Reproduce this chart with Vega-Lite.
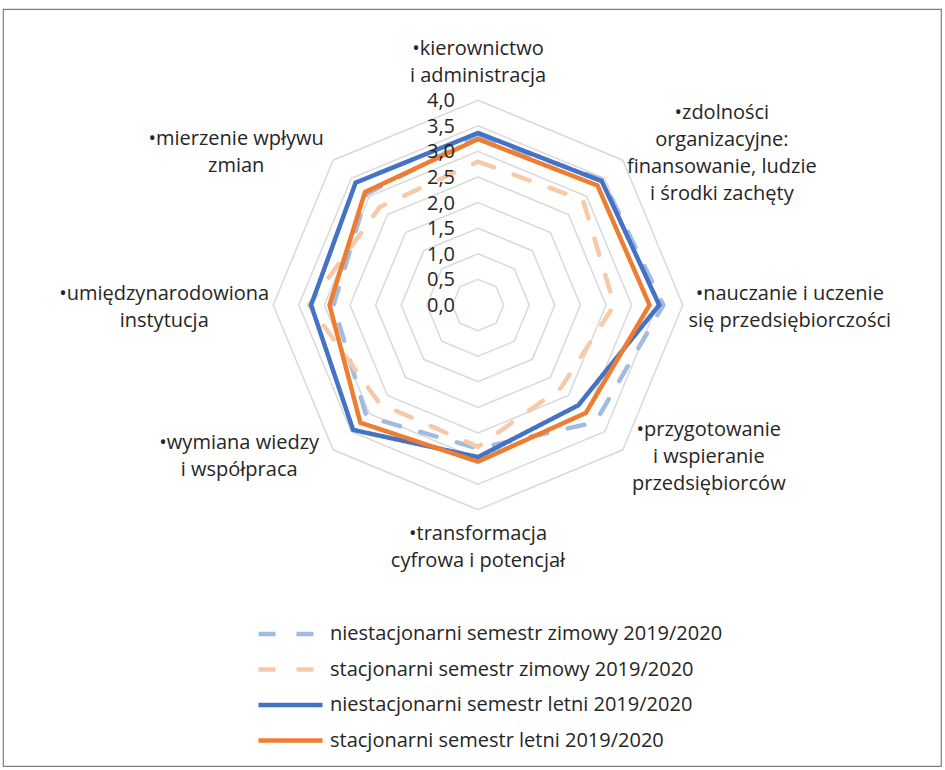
{
  "$schema": "https://vega.github.io/schema/vega-lite/v6.json",
  "width": 938,
  "height": 757,
  "autosize": {"type": "none"},
  "padding": {"left": 3, "top": 9, "right": 4, "bottom": 4},
  "background": "white",
  "config": {
    "view": {"stroke": "#7f7f7f", "strokeWidth": 1.2},
    "font": "Open Sans",
    "locale": {"number": {"decimal": ",", "thousands": " ", "grouping": [3], "currency": ["", " zł"]}}
  },
  "datasets": {
    "categories": [
      {"category": "kierownictwo i administracja", "label": "•kierownictwo\ni administracja"},
      {"category": "zdolności organizacyjne", "label": "•zdolności\norganizacyjne:\nfinansowanie, ludzie\ni środki zachęty"},
      {"category": "nauczanie i uczenie się przedsiębiorczości", "label": "•nauczanie i uczenie\nsię przedsiębiorczości"},
      {"category": "przygotowanie i wspieranie przedsiębiorców", "label": "•przygotowanie\ni wspieranie\nprzedsiębiorców"},
      {"category": "transformacja cyfrowa i potencjał", "label": "•transformacja\ncyfrowa i potencjał"},
      {"category": "wymiana wiedzy i współpraca", "label": "•wymiana wiedzy\ni współpraca"},
      {"category": "umiędzynarodowiona instytucja", "label": "•umiędzynarodowiona\ninstytucja"},
      {"category": "mierzenie wpływu zmian", "label": "•mierzenie wpływu\nzmian"}
    ],
    "scores": [
      {"series": "niestacjonarni semestr zimowy 2019/2020", "category": "kierownictwo i administracja", "value": 3.30},
      {"series": "niestacjonarni semestr zimowy 2019/2020", "category": "zdolności organizacyjne", "value": 3.45},
      {"series": "niestacjonarni semestr zimowy 2019/2020", "category": "nauczanie i uczenie się przedsiębiorczości", "value": 3.62},
      {"series": "niestacjonarni semestr zimowy 2019/2020", "category": "przygotowanie i wspieranie przedsiębiorców", "value": 3.24},
      {"series": "niestacjonarni semestr zimowy 2019/2020", "category": "transformacja cyfrowa i potencjał", "value": 2.80},
      {"series": "niestacjonarni semestr zimowy 2019/2020", "category": "wymiana wiedzy i współpraca", "value": 3.08},
      {"series": "niestacjonarni semestr zimowy 2019/2020", "category": "umiędzynarodowiona instytucja", "value": 2.82},
      {"series": "niestacjonarni semestr zimowy 2019/2020", "category": "mierzenie wpływu zmian", "value": 3.07},
      {"series": "stacjonarni semestr zimowy 2019/2020", "category": "kierownictwo i administracja", "value": 2.80},
      {"series": "stacjonarni semestr zimowy 2019/2020", "category": "zdolności organizacyjne", "value": 2.90},
      {"series": "stacjonarni semestr zimowy 2019/2020", "category": "nauczanie i uczenie się przedsiębiorczości", "value": 2.66},
      {"series": "stacjonarni semestr zimowy 2019/2020", "category": "przygotowanie i wspieranie przedsiębiorców", "value": 2.29},
      {"series": "stacjonarni semestr zimowy 2019/2020", "category": "transformacja cyfrowa i potencjał", "value": 2.77},
      {"series": "stacjonarni semestr zimowy 2019/2020", "category": "wymiana wiedzy i współpraca", "value": 2.72},
      {"series": "stacjonarni semestr zimowy 2019/2020", "category": "umiędzynarodowiona instytucja", "value": 3.30},
      {"series": "stacjonarni semestr zimowy 2019/2020", "category": "mierzenie wpływu zmian", "value": 2.71},
      {"series": "niestacjonarni semestr letni 2019/2020", "category": "kierownictwo i administracja", "value": 3.36},
      {"series": "niestacjonarni semestr letni 2019/2020", "category": "zdolności organizacyjne", "value": 3.42},
      {"series": "niestacjonarni semestr letni 2019/2020", "category": "nauczanie i uczenie się przedsiębiorczości", "value": 3.54},
      {"series": "niestacjonarni semestr letni 2019/2020", "category": "przygotowanie i wspieranie przedsiębiorców", "value": 2.77},
      {"series": "niestacjonarni semestr letni 2019/2020", "category": "transformacja cyfrowa i potencjał", "value": 2.97},
      {"series": "niestacjonarni semestr letni 2019/2020", "category": "wymiana wiedzy i współpraca", "value": 3.45},
      {"series": "niestacjonarni semestr letni 2019/2020", "category": "umiędzynarodowiona instytucja", "value": 3.26},
      {"series": "niestacjonarni semestr letni 2019/2020", "category": "mierzenie wpływu zmian", "value": 3.38},
      {"series": "stacjonarni semestr letni 2019/2020", "category": "kierownictwo i administracja", "value": 3.24},
      {"series": "stacjonarni semestr letni 2019/2020", "category": "zdolności organizacyjne", "value": 3.30},
      {"series": "stacjonarni semestr letni 2019/2020", "category": "nauczanie i uczenie się przedsiębiorczości", "value": 3.35},
      {"series": "stacjonarni semestr letni 2019/2020", "category": "przygotowanie i wspieranie przedsiębiorców", "value": 2.98},
      {"series": "stacjonarni semestr letni 2019/2020", "category": "transformacja cyfrowa i potencjał", "value": 3.06},
      {"series": "stacjonarni semestr letni 2019/2020", "category": "wymiana wiedzy i współpraca", "value": 3.25},
      {"series": "stacjonarni semestr letni 2019/2020", "category": "umiędzynarodowiona instytucja", "value": 2.90},
      {"series": "stacjonarni semestr letni 2019/2020", "category": "mierzenie wpływu zmian", "value": 3.12}
    ]
  },
  "layer": [
    {
      "data": {"name": "categories"},
      "transform": [
        {"calculate": "indexof(['kierownictwo i administracja','zdolności organizacyjne','nauczanie i uczenie się przedsiębiorczości','przygotowanie i wspieranie przedsiębiorców','transformacja cyfrowa i potencjał','wymiana wiedzy i współpraca','umiędzynarodowiona instytucja','mierzenie wpływu zmian'], datum.category)", "as": "idx"},
        {"calculate": "datum.idx * PI / 4", "as": "a"},
        {"calculate": "[0.5, 1, 1.5, 2, 2.5, 3, 3.5, 4]", "as": "ring"},
        {"flatten": ["ring"]},
        {"calculate": "datum.ring * sin(datum.a)", "as": "gx"},
        {"calculate": "datum.ring * cos(datum.a)", "as": "gy"}
      ],
      "mark": {"type": "line", "interpolate": "linear-closed", "color": "#d9d9d9", "strokeWidth": 1.5},
      "encoding": {
        "x": {"field": "gx", "type": "quantitative", "scale": {"domain": [-9.2773, 9.043], "nice": false, "zero": false}, "axis": null},
        "y": {"field": "gy", "type": "quantitative", "scale": {"domain": [-9.0039, 5.78125], "nice": false, "zero": false}, "axis": null},
        "detail": {"field": "ring"},
        "order": {"field": "idx"}
      }
    },
    {
      "data": {"name": "scores"},
      "transform": [
        {"calculate": "indexof(['kierownictwo i administracja','zdolności organizacyjne','nauczanie i uczenie się przedsiębiorczości','przygotowanie i wspieranie przedsiębiorców','transformacja cyfrowa i potencjał','wymiana wiedzy i współpraca','umiędzynarodowiona instytucja','mierzenie wpływu zmian'], datum.category)", "as": "idx"},
        {"calculate": "datum.idx * PI / 4", "as": "a"},
        {"calculate": "datum.value * sin(datum.a)", "as": "px"},
        {"calculate": "datum.value * cos(datum.a)", "as": "py"}
      ],
      "encoding": {
        "x": {"field": "px", "type": "quantitative", "scale": {"domain": [-9.2773, 9.043], "nice": false, "zero": false}, "axis": null},
        "y": {"field": "py", "type": "quantitative", "scale": {"domain": [-9.0039, 5.78125], "nice": false, "zero": false}, "axis": null},
        "order": {"field": "idx"},
        "color": {
          "field": "series", "type": "nominal",
          "scale": {
            "domain": ["niestacjonarni semestr zimowy 2019/2020", "stacjonarni semestr zimowy 2019/2020", "niestacjonarni semestr letni 2019/2020", "stacjonarni semestr letni 2019/2020"],
            "range": ["#a2bbe1", "#f8c9a9", "#4472c4", "#ed7d31"]
          },
          "legend": {
            "title": null, "orient": "none", "legendX": 253, "legendY": 615,
            "symbolType": "stroke", "symbolSize": 4096, "symbolStrokeWidth": 4.5,
            "clipHeight": 20, "rowPadding": 15.5, "labelFontSize": 20, "labelFont": "Open Sans",
            "labelColor": "#262626", "labelOffset": 5, "labelLimit": 600
          }
        },
        "strokeDash": {
          "field": "series", "type": "nominal",
          "scale": {
            "domain": ["niestacjonarni semestr zimowy 2019/2020", "stacjonarni semestr zimowy 2019/2020", "niestacjonarni semestr letni 2019/2020", "stacjonarni semestr letni 2019/2020"],
            "range": [[17, 21], [17, 21], [1, 0], [1, 0]]
          },
          "legend": {
            "title": null, "orient": "none", "legendX": 253, "legendY": 615,
            "symbolType": "stroke", "symbolSize": 4096, "symbolStrokeWidth": 4.5,
            "clipHeight": 20, "rowPadding": 15.5, "labelFontSize": 20, "labelFont": "Open Sans",
            "labelColor": "#262626", "labelOffset": 5, "labelLimit": 600
          }
        }
      },
      "layer": [
        {"transform": [{"filter": "datum.series == 'niestacjonarni semestr zimowy 2019/2020'"}], "mark": {"type": "line", "interpolate": "linear-closed", "strokeWidth": 4.5, "strokeCap": "round", "strokeJoin": "round"}},
        {"transform": [{"filter": "datum.series == 'stacjonarni semestr zimowy 2019/2020'"}], "mark": {"type": "line", "interpolate": "linear-closed", "strokeWidth": 4.5, "strokeCap": "round", "strokeJoin": "round"}},
        {"transform": [{"filter": "datum.series == 'niestacjonarni semestr letni 2019/2020'"}], "mark": {"type": "line", "interpolate": "linear-closed", "strokeWidth": 4.5, "strokeJoin": "miter"}},
        {"transform": [{"filter": "datum.series == 'stacjonarni semestr letni 2019/2020'"}], "mark": {"type": "line", "interpolate": "linear-closed", "strokeWidth": 4.5, "strokeJoin": "miter"}}
      ]
    },
    {
      "data": {"name": "categories"},
      "transform": [
        {"calculate": "indexof(['kierownictwo i administracja','zdolności organizacyjne','nauczanie i uczenie się przedsiębiorczości','przygotowanie i wspieranie przedsiębiorców','transformacja cyfrowa i potencjał','wymiana wiedzy i współpraca','umiędzynarodowiona instytucja','mierzenie wpływu zmian'], datum.category)", "as": "idx"},
        {"filter": "datum.idx == 0"},
        {"calculate": "[0, 0.5, 1, 1.5, 2, 2.5, 3, 3.5, 4]", "as": "ring"},
        {"flatten": ["ring"]}
      ],
      "mark": {"type": "text", "align": "right", "baseline": "middle", "dx": -23, "dy": 1, "fontSize": 20, "color": "#262626"},
      "encoding": {
        "x": {"datum": 0, "type": "quantitative", "scale": {"domain": [-9.2773, 9.043], "nice": false, "zero": false}, "axis": null},
        "y": {"field": "ring", "type": "quantitative", "scale": {"domain": [-9.0039, 5.78125], "nice": false, "zero": false}, "axis": null},
        "text": {"field": "ring", "type": "quantitative", "format": ".1f"}
      }
    },
    {
      "data": {"name": "categories"},
      "transform": [
        {"calculate": "indexof(['kierownictwo i administracja','zdolności organizacyjne','nauczanie i uczenie się przedsiębiorczości','przygotowanie i wspieranie przedsiębiorców','transformacja cyfrowa i potencjał','wymiana wiedzy i współpraca','umiędzynarodowiona instytucja','mierzenie wpływu zmian'], datum.category)", "as": "idx"},
        {"calculate": "4 * sin(datum.idx * PI / 4)", "as": "lx"},
        {"calculate": "4 * cos(datum.idx * PI / 4)", "as": "ly"}
      ],
      "encoding": {
        "x": {"field": "lx", "type": "quantitative", "scale": {"domain": [-9.2773, 9.043], "nice": false, "zero": false}, "axis": null},
        "y": {"field": "ly", "type": "quantitative", "scale": {"domain": [-9.0039, 5.78125], "nice": false, "zero": false}, "axis": null},
        "text": {"field": "label", "type": "nominal"}
      },
      "layer": [
        {"transform": [{"filter": "datum.idx == 0"}], "mark": {"type": "text", "align": "center", "baseline": "middle", "lineBreak": "\n", "lineHeight": 27, "fontSize": 20, "color": "#262626", "dx": 0, "dy": -51}},
        {"transform": [{"filter": "datum.idx == 1"}], "mark": {"type": "text", "align": "center", "baseline": "middle", "lineBreak": "\n", "lineHeight": 27, "fontSize": 20, "color": "#262626", "dx": 99, "dy": -47}},
        {"transform": [{"filter": "datum.idx == 2"}], "mark": {"type": "text", "align": "center", "baseline": "middle", "lineBreak": "\n", "lineHeight": 27, "fontSize": 20, "color": "#262626", "dx": 107, "dy": -11}},
        {"transform": [{"filter": "datum.idx == 3"}], "mark": {"type": "text", "align": "center", "baseline": "middle", "lineBreak": "\n", "lineHeight": 27, "fontSize": 20, "color": "#262626", "dx": 86, "dy": -20}},
        {"transform": [{"filter": "datum.idx == 4"}], "mark": {"type": "text", "align": "center", "baseline": "middle", "lineBreak": "\n", "lineHeight": 27, "fontSize": 20, "color": "#262626", "dx": 0, "dy": 24}},
        {"transform": [{"filter": "datum.idx == 5"}], "mark": {"type": "text", "align": "center", "baseline": "middle", "lineBreak": "\n", "lineHeight": 27, "fontSize": 20, "color": "#262626", "dx": -94, "dy": -7}},
        {"transform": [{"filter": "datum.idx == 6"}], "mark": {"type": "text", "align": "center", "baseline": "middle", "lineBreak": "\n", "lineHeight": 27, "fontSize": 20, "color": "#262626", "dx": -109, "dy": -11}},
        {"transform": [{"filter": "datum.idx == 7"}], "mark": {"type": "text", "align": "center", "baseline": "middle", "lineBreak": "\n", "lineHeight": 27, "fontSize": 20, "color": "#262626", "dx": -97, "dy": -21}}
      ]
    }
  ]
}
